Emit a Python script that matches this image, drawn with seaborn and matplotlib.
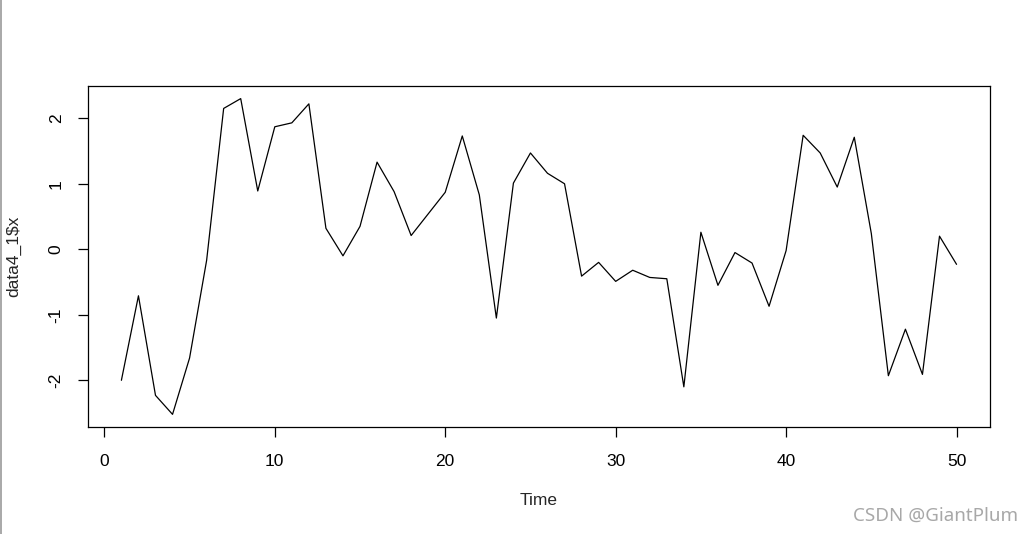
import matplotlib
matplotlib.use("Agg")
import matplotlib.pyplot as plt
import seaborn as sns
from matplotlib.lines import Line2D

time = list(range(1, 51))
x_values = [
    -2.00, -0.71, -2.23, -2.52, -1.66, -0.17, 2.15, 2.30, 0.89, 1.87,
    1.93, 2.22, 0.32, -0.10, 0.35, 1.33, 0.88, 0.21, 0.54, 0.87,
    1.73, 0.83, -1.05, 1.01, 1.47, 1.16, 1.00, -0.41, -0.20, -0.49,
    -0.32, -0.43, -0.45, -2.10, 0.26, -0.55, -0.05, -0.21, -0.87, -0.02,
    1.74, 1.47, 0.95, 1.71, 0.24, -1.93, -1.22, -1.91, 0.20, -0.23,
]
x_ticks = [0, 10, 20, 30, 40, 50]
y_ticks = [-2, -1, 0, 1, 2]

sns.set_style("white")
plt.rcParams["font.family"] = ["Liberation Sans", "DejaVu Sans"]

fig = plt.figure(figsize=(10.34, 5.34), dpi=100)
ax = fig.add_axes([0.0851, 0.2004, 0.8723, 0.6386])

sns.lineplot(x=time, y=x_values, color="black", linewidth=0.9, ax=ax)

# R-style 4% padding of the ranges
pad_x = (max(time) - min(time)) * 0.04
pad_y = (max(x_values) - min(x_values)) * 0.04
ax.set_xlim(min(time) - pad_x, max(time) + pad_x)
ax.set_ylim(min(x_values) - pad_y, max(x_values) + pad_y)

ax.set_xticks(x_ticks)
ax.set_yticks(y_ticks)
ax.set_xticklabels([str(t) for t in x_ticks])
ax.set_yticklabels([str(t) for t in y_ticks], rotation=90, va="center")

for s in ax.spines.values():
    s.set_color("black")
    s.set_linewidth(0.9)

ax.tick_params(axis="both", direction="out", length=7.5, width=0.9, color="black",
               labelsize=12.5, labelcolor="black", bottom=True, left=True)
ax.tick_params(axis="x", pad=12)
ax.tick_params(axis="y", pad=10)

ax.set_xlabel("Time", fontsize=12.5, labelpad=17)
ax.set_ylabel("data4_1\\$x", fontsize=12.5)
ax.yaxis.set_label_coords(-0.0743, 0.5)

fig.text(0.985, 0.034, "CSDN @GiantPlum", ha="right", va="center",
         fontsize=13.5, color="#a8a8a8", family=["Noto Sans", "DejaVu Sans"])
fig.add_artist(Line2D([0.001, 0.001], [0, 1], color="#9a9a9a", linewidth=1.2))

fig.savefig("out.png", dpi=100)
